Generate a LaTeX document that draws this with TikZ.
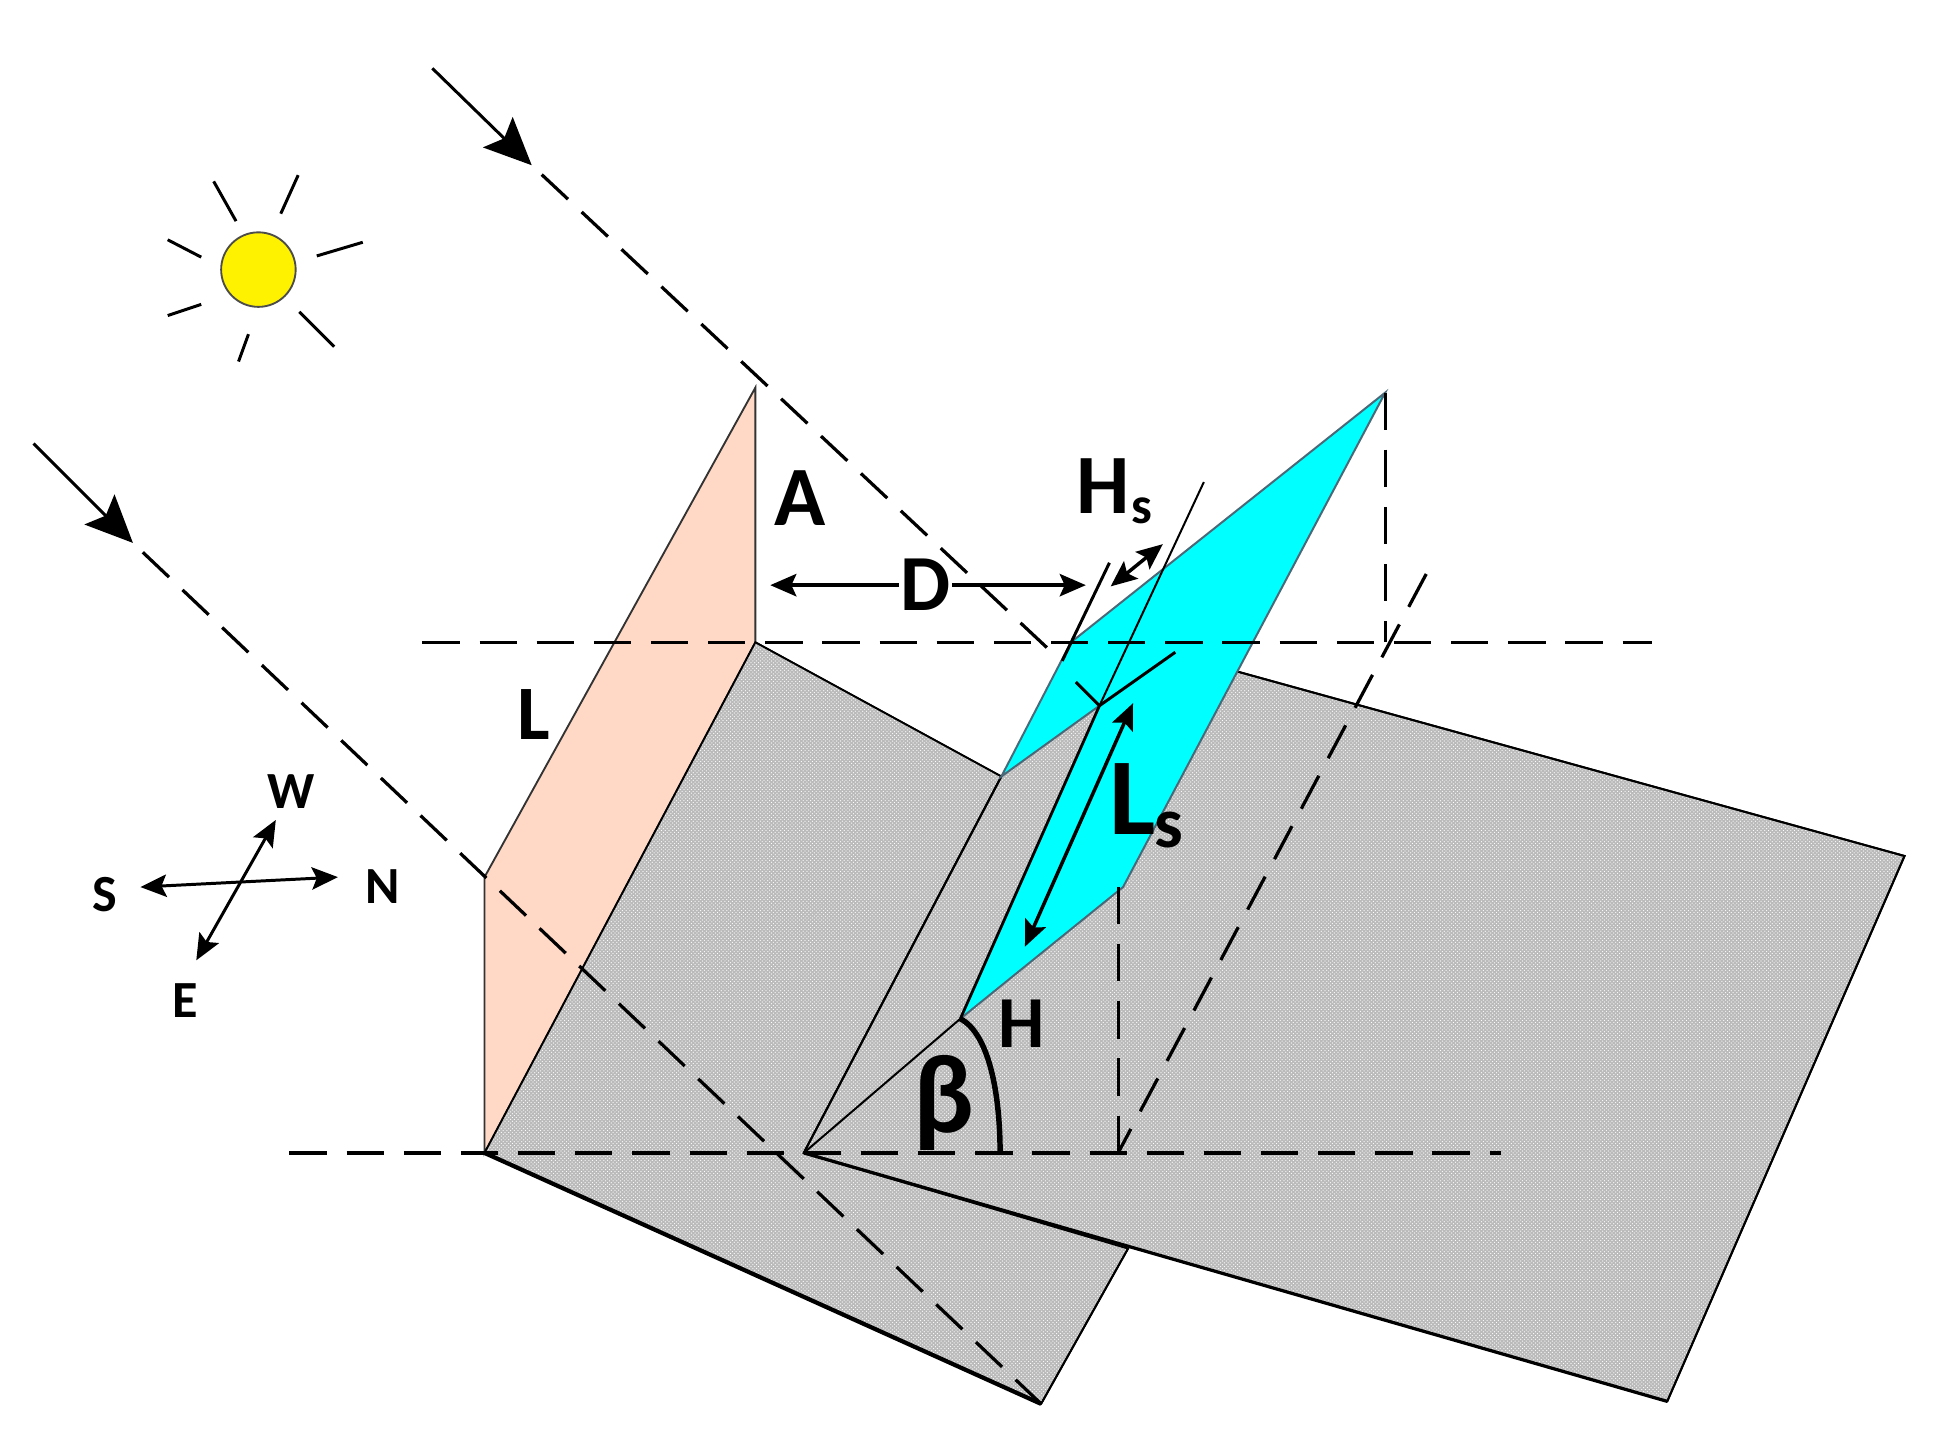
\documentclass[tikz,border=0pt]{standalone}
\usepackage{fontspec}
\setmainfont{Carlito}
\usetikzlibrary{arrows.meta,patterns}
\definecolor{panelgray}{RGB}{186,186,186}
\definecolor{wallpeach}{RGB}{255,217,197}
\definecolor{shadecyan}{RGB}{0,255,255}
\tikzset{
    %Define standard arrow tip
    >={Stealth[length=21pt,width=18pt,inset=4pt]},
    raytip/.style={-{Stealth[length=38pt,width=34pt,inset=7pt]},line width=2.4pt},
    %Define style for surfaces
    panel/.style={
           preaction={fill=panelgray},
           pattern=crosshatch dots,
           pattern color=white,
           draw=black, line width=1.5pt},
    wall/.style={
           fill=wallpeach,
           draw=black!80, line width=1.5pt},
    shade/.style={
           fill=shadecyan,
           draw=black!60!cyan, line width=1.6pt},
    % Define line styles
    guide/.style={dash pattern=on 30pt off 16pt, line width=2.6pt},
    raydash/.style={dash pattern=on 29pt off 15pt, dash phase=33pt, line width=2.6pt},
    thin edge/.style={line width=1.6pt},
    heavy edge/.style={line width=3.4pt},
    dim/.style={<->, line width=2.8pt},
    sunray/.style={line width=2.4pt},
    % Define label styles
    lab/.style={font=\bfseries\fontsize{#1}{#1}\selectfont, inner sep=1pt}
}
\begin{document}
\begin{tikzpicture}[x=1pt,y=-1pt]
\useasboundingbox (0,0) rectangle (1568,1168);
% points of the site
\coordinate (wallTop) at (608,312);
\coordinate (wallFoot) at (608,517);
\coordinate (wallLow) at (390,706);
\coordinate (wallBase) at (390,928);
\coordinate (rowEnd) at (806,625);
\coordinate (rowNear) at (838,1130);
\coordinate (rowCut) at (908,1005);
\coordinate (nextFoot) at (647,928);
\coordinate (nextTop) at (900,514);
\coordinate (nextBack) at (1533,689);
\coordinate (nextNear) at (1342,1128);
% panel
\coordinate (panTop) at (1115,316);
\coordinate (panEdge) at (862,517);
\coordinate (panFold) at (885,568);
\coordinate (panLow) at (773,820);
\coordinate (panKnee) at (904,714);

\fill[panel] (wallBase) -- (wallFoot) -- (rowEnd) -- (nextFoot) -- (rowCut) -- (rowNear) -- cycle;
\draw[wall] (wallTop) -- (wallLow) -- (wallBase) -- (wallFoot) -- cycle;
\draw[panel] (wallBase) -- (wallFoot) -- (rowEnd);
\draw[panel] (rowCut) -- (rowNear);
\fill[panel] (nextFoot) -- (rowEnd) -- (nextTop) -- (nextBack) -- (nextNear) -- cycle;
\draw[thin edge] (nextFoot) -- (rowEnd);
\draw[thin edge] (nextTop) -- (nextBack) -- (nextNear);
\draw[heavy edge] (wallBase) -- (rowNear);
\draw[line width=2.6pt] (nextFoot) -- (nextNear);
\draw[shade] (panTop) -- (panEdge) -- (rowEnd) -- (panFold) -- (panLow) -- (panKnee) -- cycle;

% guide lines
\coordinate (upW) at (340,517);
\coordinate (upE) at (1330,517);
\coordinate (lowW) at (233,928);
\coordinate (lowE) at (1208,928);
\coordinate (topDrop) at (1115,517);
\coordinate (kneeTop) at (900,714);
\coordinate (kneeDrop) at (900,928);
\coordinate (slantEnd) at (1148,462);
\draw[guide] (upW) -- (upE);
\draw[guide] (lowW) -- (lowE);
\draw[guide] (panTop) -- (topDrop);
\draw[guide] (kneeTop) -- (kneeDrop);
\draw[guide] (slantEnd) -- (kneeDrop);

% sun rays with arrow
\coordinate (rayAa) at (348,55);
\coordinate (rayAb) at (428,133);
\coordinate (rayAc) at (852,530);
\coordinate (rayBa) at (27,357);
\coordinate (rayBb) at (107,437);
\draw[raytip] (rayAa) -- (rayAb);
\draw[raytip] (rayBa) -- (rayBb);
\draw[raydash] (rayAb) -- (rayAc);
\draw[raydash] (rayBb) -- (rowNear);

% thickness and fold lines
\coordinate (foldEnd) at (969,388);
\coordinate (edgeEnd) at (893,453);
\coordinate (edgeLow) at (855,532);
\coordinate (tickA) at (946,525);
\coordinate (tickB) at (866,549);
\draw[line width=1.6pt] (foldEnd) -- (panFold);
\draw[line width=2.4pt] (edgeEnd) -- (edgeLow);
\draw[line width=2.4pt] (tickA) -- (panFold) -- (tickB);
\draw[line width=2.2pt] (panFold) -- (panLow);

% dimensions
\node[lab=64] (D) at (745,471) {D};
\coordinate (dimW) at (620,471);
\coordinate (dimE) at (874,471);
\draw[<-,line width=2.8pt] (dimW) -- (D);
\draw[<-,line width=2.8pt] (dimE) -- (D);
\coordinate (hsA) at (936,438);
\coordinate (hsB) at (894,472);
\draw[dim] (hsA) -- (hsB);
\coordinate (lsA) at (912,566);
\coordinate (lsB) at (825,762);
\draw[dim] (lsA) -- (lsB);

% angle
\coordinate (arcEnd) at (805,928);
\draw[line width=1.6pt] (nextFoot) -- (panLow);
\draw[line width=4.4pt] (panLow) .. controls (796,832) and (805,880) .. (arcEnd);

% sun
\node[circle, fill=yellow, draw=black!70, line width=1.5pt, minimum size=60pt, inner sep=0pt] (sun) at (208,217) {};
\foreach \xa/\ya/\xb/\yb in {172/146/190/178, 240/141/226/172, 135/193/162/207, 135/254/162/245, 292/195/255/206, 241/251/269/279, 192/291/200/269}
    \draw[sunray] (\xa,\ya) -- (\xb,\yb);

% compass
\node[lab=42] (compW) at (234,637) {W};
\node[lab=42] (compS) at (84,720) {S};
\node[lab=42] (compN) at (308,714) {N};
\node[lab=42] (compE) at (149,805) {E};
\coordinate (arrS) at (113,714);
\coordinate (arrN) at (272,706);
\coordinate (arrW) at (222,660);
\coordinate (arrE) at (158,773);
\draw[dim, line width=2.4pt] (arrS) -- (arrN);
\draw[dim, line width=2.4pt] (arrW) -- (arrE);

% labels
\node[lab=68] (A) at (644,401) {A};
\node[lab=62] (L) at (430,575) {L};
\node[lab=59] (H) at (822,824) {H};
\node[lab=90] (beta) at (760,888) {β};
\node[lab=68] (Hs) at (888,391) {H};
\node[lab=42, anchor=base west, inner sep=0pt, yshift=-8pt] (HsSub) at (Hs.base east) {s};
\node[lab=88] (Ls) at (912,643) {L};
\node[lab=58, anchor=base west, inner sep=0pt, yshift=-11pt, xshift=-3pt] (LsSub) at (Ls.base east) {s};
\end{tikzpicture}
\end{document}
